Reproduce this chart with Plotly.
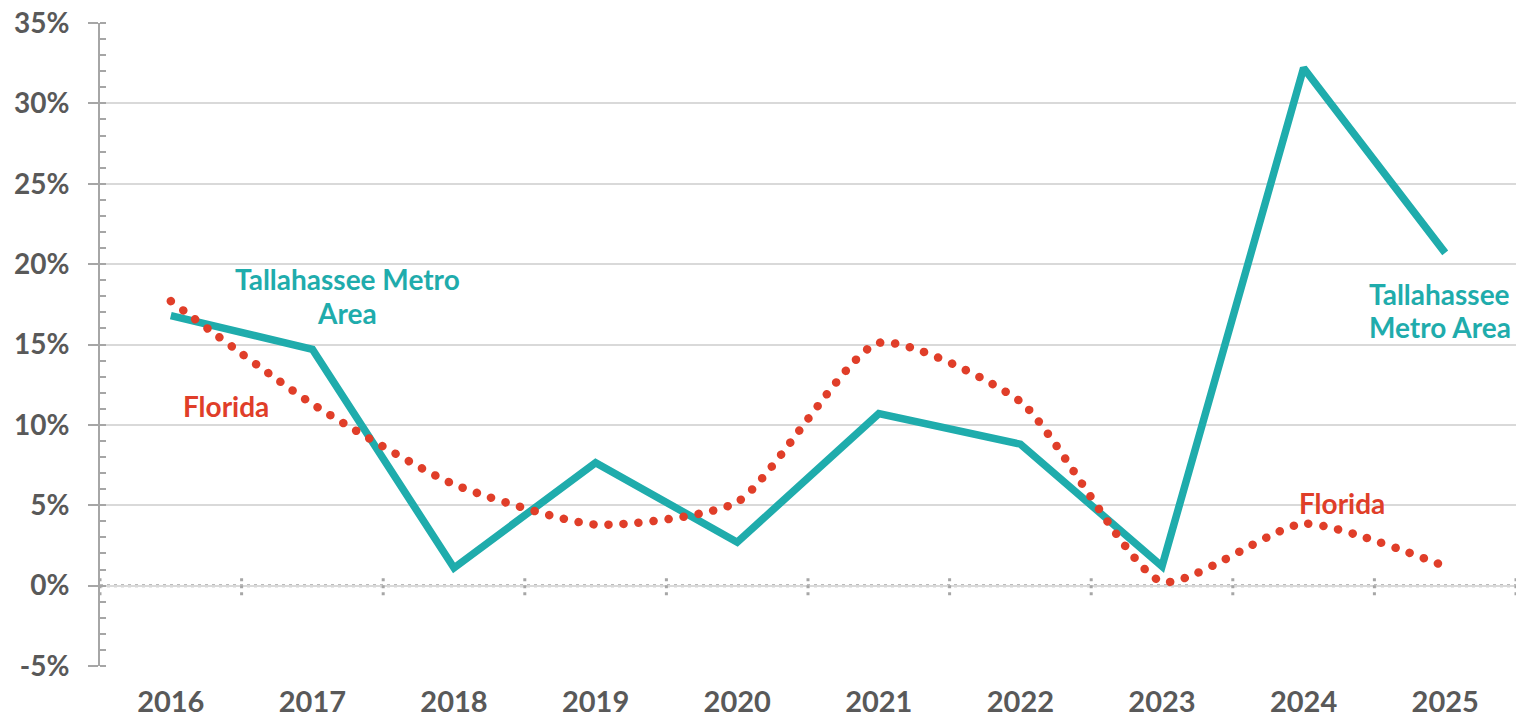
import plotly.graph_objects as go

years = ["2016", "2017", "2018", "2019", "2020", "2021", "2022", "2023", "2024", "2025"]
tallahassee = [16.8, 14.7, 1.1, 7.65, 2.7, 10.7, 8.8, 1.2, 32.2, 20.7]
florida = [17.7, 11.3, 6.3, 3.8, 5.2, 15.1, 11.45, 0.25, 3.85, 1.2]
y_ticks = [-5, 0, 5, 10, 15, 20, 25, 30, 35]
y_tick_labels = [f"{v}%" for v in y_ticks]

TEAL = "#1FACAC"
RED = "#E03E29"
GRAY_TXT = "#595959"
AXIS_GRAY = "#A6A6A6"
FONT = "Lato"

fig = go.Figure()
fig.add_trace(go.Scatter(
    x=years, y=tallahassee, mode="lines", name="Tallahassee Metro Area",
    line=dict(color=TEAL, width=7.5), showlegend=False, hoverinfo="x+y"))
fig.add_trace(go.Scatter(
    x=years, y=florida, mode="lines", name="Florida",
    line=dict(color=RED, width=8.5, dash="dot", shape="spline", smoothing=0.6),
    showlegend=False, hoverinfo="x+y"))

shapes = []
shapes.append(dict(type="line", xref="paper", yref="y", x0=0, x1=1, y0=0, y1=0,
                   line=dict(color="white", width=4), layer="between"))
shapes.append(dict(type="line", xref="paper", yref="y", x0=0, x1=1, y0=0, y1=0,
                   line=dict(color=AXIS_GRAY, width=3, dash="3px,4px"), layer="between"))
for i in range(len(years) + 1):
    shapes.append(dict(type="line", xref="x", yref="y", x0=i - 0.5, x1=i - 0.5,
                       y0=-0.6, y1=0.6,
                       line=dict(color=AXIS_GRAY, width=3, dash="3px,4px"), layer="between"))

ann_font_t = dict(family=FONT, size=28, color=TEAL, weight="bold")
ann_font_f = dict(family=FONT, size=28, color=RED, weight="bold")
labels = [
    ("Tallahassee Metro", 1.245, 19.05, ann_font_t),
    ("Area", 1.245, 16.95, ann_font_t),
    ("Florida", 0.39, 11.2, ann_font_f),
    ("Florida", 8.27, 5.15, ann_font_f),
    ("Tallahassee", 8.963, 18.15, ann_font_t),
    ("Metro Area", 8.963, 16.1, ann_font_t),
]
annotations = [dict(x=x, y=y, xref="x", yref="y", text=t, showarrow=False,
                    font=f, xanchor="center", yanchor="middle")
               for t, x, y, f in labels]

fig.update_layout(
    width=1533, height=717,
    margin=dict(l=100, r=17, t=23, b=51, autoexpand=False),
    paper_bgcolor="white", plot_bgcolor="white",
    shapes=shapes, annotations=annotations,
    xaxis=dict(type="category", range=[-0.5, len(years) - 0.5], showgrid=False,
               showline=False, ticks="", zeroline=False, automargin=False,
               ticklabelstandoff=16,
               tickfont=dict(family=FONT, size=29, color=GRAY_TXT, weight="bold")),
    yaxis=dict(range=[-5, 35], tickvals=y_ticks, ticktext=y_tick_labels,
               showgrid=True, gridcolor="#D9D9D9", gridwidth=2, zeroline=False,
               showline=True, linecolor=AXIS_GRAY, linewidth=2, automargin=False,
               ticks="outside", ticklen=10, tickwidth=2, tickcolor=AXIS_GRAY,
               ticklabelstandoff=13,
               minor=dict(dtick=1, ticks="inside", ticklen=6, tickwidth=2,
                          tickcolor=AXIS_GRAY, showgrid=False),
               tickfont=dict(family=FONT, size=28, color=GRAY_TXT, weight="bold")),
)

post = """
document.body.style.margin = '0';
document.body.style.overflow = 'hidden';
setTimeout(function(){
  var gd = document.getElementById('{plot_id}');
  var traces = gd.querySelectorAll('.scatterlayer .trace');
  if (traces.length > 1) {
    traces[1].querySelectorAll('path.js-line').forEach(function(p){
      p.style.strokeLinecap = 'round';
      p.style.strokeDasharray = '0.1px,15px';
    });
  }
}, 50);
"""
fig.write_html("out.html", post_script=post, config={"displayModeBar": False})
